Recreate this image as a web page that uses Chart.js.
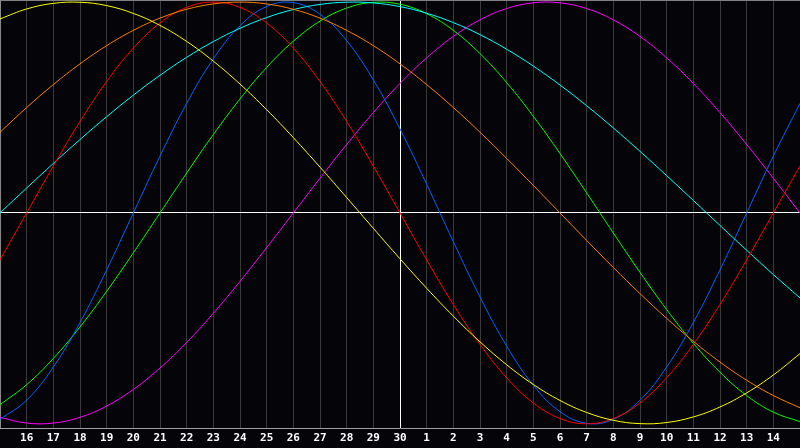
<!DOCTYPE html>
<html>
<head>
<meta charset="utf-8">
<script src="https://cdn.jsdelivr.net/npm/chart.js@4/dist/chart.umd.min.js"></script>
<style>
html,body{margin:0;padding:0;background:#050409;overflow:hidden;}
#wrap{position:relative;width:800px;height:448px;}
canvas{display:block;}
</style>
</head>
<body>
<div id="wrap"><canvas id="c" width="800" height="448"></canvas></div>
<script>
// Day labels (first and last are chart edges, not labelled)
const dayLabels = ['15','16','17','18','19','20','21','22','23','24','25','26','27','28','29','30',
                   '1','2','3','4','5','6','7','8','9','10','11','12','13','14','15'];

const blueSeries = [-97.91,-88.79,-73.08,-51.96,-26.98,0,26.98,51.96,73.08,88.79,97.91,99.77,94.23,81.70,63.12,39.84,
                    13.62,-13.62,-39.84,-63.12,-81.70,-94.23,-99.77,-97.91,-88.79,-73.08,-51.96,-26.98,0,26.98,51.96];
const redSeries = [-22.25,0,22.25,43.39,62.35,78.18,90.10,97.49,100,97.49,90.10,78.18,62.35,43.39,22.25,0,
                   -22.25,-43.39,-62.35,-78.18,-90.10,-97.49,-100,-97.49,-90.10,-78.18,-62.35,-43.39,-22.25,0,22.25];
const greenSeries = [-90.96,-81.46,-69.01,-54.06,-37.17,-18.93,0,18.93,37.17,54.06,69.01,81.46,90.96,97.18,99.89,98.98,
                     94.50,86.60,75.57,61.82,45.82,28.17,9.51,-9.51,-28.17,-45.82,-61.82,-75.57,-86.60,-94.50,-98.98];
const magentaSeries = [-96.94,-99.66,-99.66,-96.94,-91.57,-83.71,-73.55,-61.42,-47.59,-32.47,-16.46,0,16.46,32.47,47.59,61.42,
                       73.55,83.71,91.57,96.94,99.66,99.66,96.94,91.57,83.71,73.55,61.42,47.59,32.47,16.46,0];
const yellowSeries = [92.03,96.75,99.40,99.93,98.34,94.64,88.94,81.35,71.99,61.13,48.95,35.72,21.74,7.30,-7.30,-21.74,
                      -35.72,-48.95,-61.13,-71.99,-81.35,-88.94,-94.64,-98.34,-99.93,-99.40,-96.75,-92.03,-85.34,-76.85,-66.73];
const orangeSeries = [38.27,50.00,60.88,70.71,79.34,86.60,92.39,96.59,99.14,100,99.14,96.59,92.39,86.60,79.34,70.71,
                      60.88,50.00,38.27,25.88,13.05,0,-13.05,-25.88,-38.27,-50.00,-60.88,-70.71,-79.34,-86.60,-92.39];
const cyanSeries = [0,11.83,23.49,34.82,45.66,55.86,65.29,73.81,81.27,87.58,92.67,96.46,98.90,99.96,99.60,97.86,
                    94.73,90.28,84.57,77.66,69.66,60.68,50.85,40.31,29.21,17.69,5.92,-5.92,-17.69,-29.21,-40.31];

function ds(data, color){
  return {data:data, borderColor:color, borderWidth:1, pointRadius:0, pointHoverRadius:0, tension:0.4, fill:false};
}

new Chart(document.getElementById('c'), {
  type:'line',
  data:{
    labels:dayLabels,
    datasets:[
      ds(yellowSeries,'#ffff00'),
      ds(orangeSeries,'#ff8000'),
      ds(redSeries,'#ff0000'),
      ds(cyanSeries,'#00ffff'),
      ds(blueSeries,'#0064ff'),
      ds(greenSeries,'#00ff00'),
      ds(magentaSeries,'#ff00ff')
    ]
  },
  options:{
    responsive:false,
    animation:false,
    events:[],
    layout:{padding:0},
    plugins:{legend:{display:false},tooltip:{enabled:false}},
    scales:{
      x:{
        type:'category',
        offset:false,
        afterFit:function(s){ s.height = 20; s.paddingLeft = 0; s.paddingRight = 0; },
        border:{display:true,color:'#a0a0a0',width:1},
        grid:{
          drawTicks:false,
          lineWidth:1,
          color:function(ctx){
            if(ctx.index===15) return '#ffffff';
            if(ctx.index===0) return '#8a8a8a';
            if(ctx.index===dayLabels.length-1) return 'rgba(0,0,0,0)';
            return '#3a3a3a';
          }
        },
        ticks:{
          autoSkip:false,
          maxRotation:0,
          minRotation:0,
          padding:4,
          color:'#ffffff',
          font:{family:'"DejaVu Sans Mono", monospace',size:11,weight:'bold'},
          callback:function(v,i){
            if(i===0 || i===dayLabels.length-1) return '';
            return dayLabels[i];
          }
        }
      },
      y:{
        min:-102,
        max:101,
        afterFit:function(s){ s.width = 0; s.paddingTop = 0; s.paddingBottom = 0; },
        afterBuildTicks:function(s){ s.ticks=[{value:-102},{value:0},{value:101}]; },
        border:{display:false},
        grid:{
          drawTicks:false,
          lineWidth:1,
          color:function(ctx){
            const v = ctx.tick ? ctx.tick.value : null;
            if(v===0) return '#ffffff';
            if(v===101) return '#808080';
            return 'rgba(0,0,0,0)';
          }
        },
        ticks:{display:false}
      }
    }
  }
});
</script>
</body>
</html>
